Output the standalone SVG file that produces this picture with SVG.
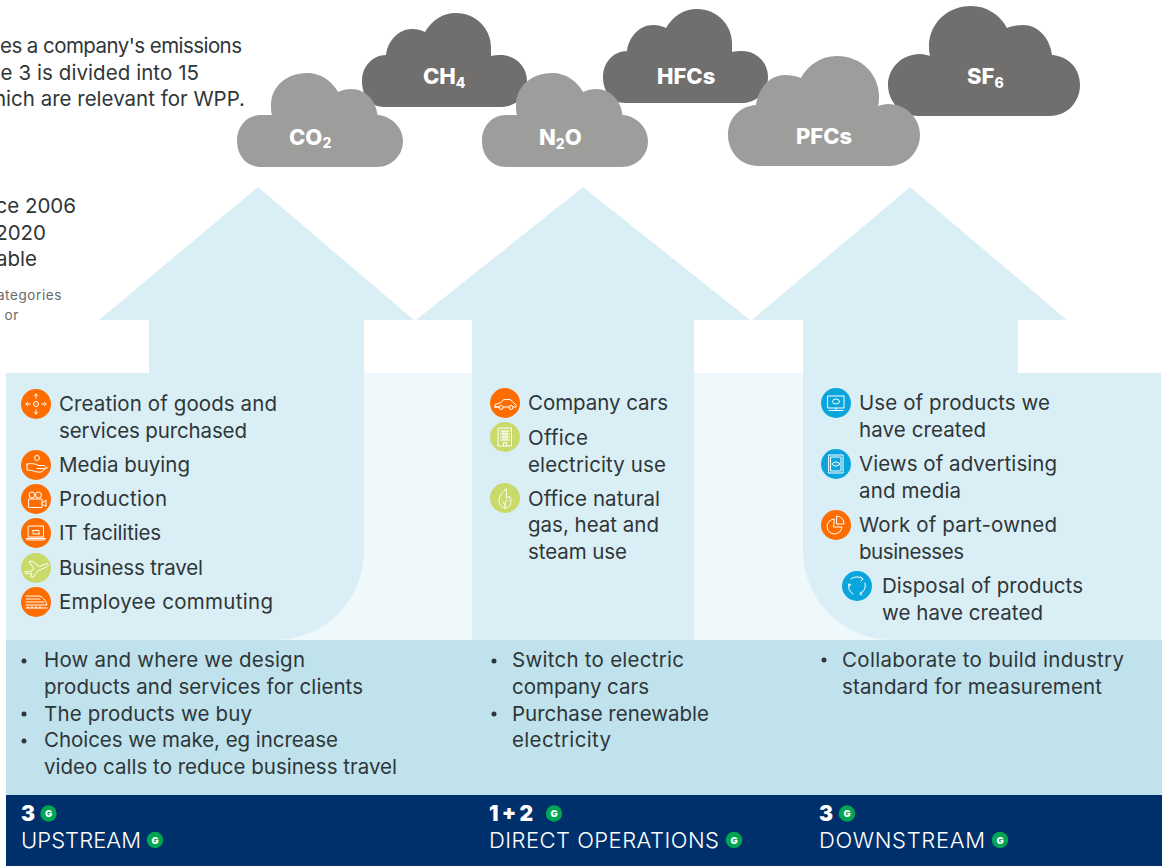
<svg xmlns="http://www.w3.org/2000/svg" width="1168" height="866" viewBox="0 0 1168 866">
<style>
text{font-family:"Inter","Liberation Sans",sans-serif}
.b{font-size:20.5px;fill:#2f3638}
.h{font-size:20.5px;fill:#2f3638}
.s{font-size:13.500px;fill:#6a6a6a;letter-spacing:.6px}
.c{font-size:22px;font-weight:800;fill:#fff}
.u{font-size:14px;font-weight:800}
.t{font-size:22px;font-weight:300;fill:#fff}
.n{font-size:21px;font-weight:900;fill:#fff}
.g{font-size:9.500px;font-weight:900;fill:#fff;text-anchor:middle}
.i{fill:none;stroke:#fff;stroke-width:1;stroke-linecap:round;stroke-linejoin:round}
.o{fill:#ff6d00}.l{fill:#c9d96a}.e{fill:#0ba5de}
.d{fill:#706f6e}.m{fill:#9d9d9c}
.k{fill:#2f3638}
</style>
<defs>
<path id="cA" d="M625,103C612,103 603,92 603,77C603,62 614,51 627,51C629,36 640,25 653,25C658,25 662,26 666,28C673,16 684,9 697,9C717,9 732,25 732,43C732,46 732,49 732,52C735,51 739,51 742,51C756,51 768,62 768,77C768,92 756,103 743,103Z"/>
<path id="cB" d="M506,167C492,167 482,156 482,141C482,126 492,115 506,115C510,115 514,115 517,115C516,112 516,109 516,105C516,87 531,73 552,73C566,73 577,81 583,92C587,90 592,89 596,89C610,89 621,100 622.500,115C636,116 648,127 648,141C648,156 636,167 622,167Z"/>
<path id="cC" d="M758,166C741,166 728,152 728,135C728,118 740,106 756,105C758,88 770,75 785,75C791,75 796,76 801,78C808,65 821,56 837,56C861,56 879,74 879,96C879,99 879,103 878,106C881,105 884,104 888,104C906,104 920,118 920,135C920,152 906,166 890,166Z"/>
<g id="g1"><circle r="8.200" fill="#00a651"/><text class="g" y="3.500">G</text></g>
</defs>
<rect width="1168" height="866" fill="#fff"/>
<g id="left-text">
<text class="h" x="0" y="53" textLength="242">es a company's emissions</text>
<text class="h" x="-12" y="80" textLength="211">pe 3 is divided into 15</text>
<text class="h" x="-6" y="106" textLength="251">hich are relevant for WPP.</text>
<text class="h" x="76" y="213" text-anchor="end">ce 2006</text>
<text class="h" x="46" y="240" text-anchor="end">2020</text>
<text class="h" x="37" y="266" text-anchor="end">able</text>
<text class="s" x="62" y="300" text-anchor="end">ategories</text>
<text class="s" x="19" y="320" text-anchor="end">or</text>
</g>
<g id="panels">
<rect x="6" y="373" width="1155" height="267" fill="#eff8fb"/>
<path id="arrow-upstream" fill="#daeef6" d="M258,187L414,320H364V550C364,600 325,640 275,640H6V373H149V320H99Z"/>
<path id="arrow-direct" fill="#daeef6" d="M583,187L750,320H694V640H472V320H416Z"/>
<path id="arrow-downstream" fill="#daeef6" d="M910,187L1067,320H1018V373H1161V640H893C843,640 803,600 803,550V320H752Z"/>
<rect x="6" y="640" width="1156" height="155" fill="#bfe2ed"/>
<rect x="6" y="795" width="1156" height="71" fill="#00306b"/>
</g>
<g id="cloud-ch4"><use href="#cA" class="d" transform="translate(-241,4)"/><text class="c" x="423" y="84">CH<tspan class="u" dy="4">4</tspan></text></g>
<g id="cloud-hfcs"><use href="#cA" class="d"/><text class="c" x="657" y="84">HFCs</text></g>
<g id="cloud-sf6"><use href="#cC" class="d" transform="matrix(-1,0,0,1,1808,-50)"/><text class="c" x="967" y="84">SF<tspan class="u" dy="4">6</tspan></text></g>
<g id="cloud-co2"><use href="#cB" class="m" transform="translate(-245,0)"/><text class="c" x="289" y="145">CO<tspan class="u" dy="3">2</tspan></text></g>
<g id="cloud-n2o"><use href="#cB" class="m"/><text class="c" x="539" y="145">N<tspan class="u" dy="4">2</tspan><tspan dy="-4">O</tspan></text></g>
<g id="cloud-pfcs"><use href="#cC" class="m"/><text class="c" x="796" y="144">PFCs</text></g>

<g id="node-goods"><circle class="o" cx="36" cy="404" r="15"/><g class="i"><circle cx="36" cy="404" r="2.500"/><path d="M36,394V398M34.500,395.500L36,394L37.500,395.500M36,414V410M34.500,412.500L36,414L37.500,412.500M26,404H30M27.500,402.500L26,404L27.500,405.500M46,404H42M44.500,402.500L46,404L44.500,405.500"/></g><text class="b" x="59" y="411" textLength="218">Creation of goods and</text><text class="b" x="59" y="438" textLength="188">services purchased</text></g>
<g id="node-media"><circle class="o" cx="36" cy="465" r="15"/><g class="i"><circle cx="37" cy="458" r="2.500"/><path d="M27,464C32,463 36,464 39,465.500H44C46,465.500 46,468.500 44,468.500H37M27,464V470C33,470 37,473 41,472L48,467"/></g><text class="b" x="59" y="472" textLength="131">Media buying</text></g>
<g id="node-production"><circle class="o" cx="36" cy="499" r="15"/><g class="i"><circle cx="32" cy="495" r="3"/><circle cx="38.500" cy="495" r="3"/><rect x="29" y="499" width="13" height="8.500"/><path d="M42,503L46,500V506.500L42,504"/></g><text class="b" x="59" y="506" textLength="108">Production</text></g>
<g id="node-it"><circle class="o" cx="36" cy="533" r="15"/><g class="i"><rect x="28.500" y="526" width="15" height="11"/><path d="M26.500,538.500H45.500L44.500,540H27.500ZM32.500,530.500H39V534M39.500,534H33V531.500"/></g><text class="b" x="59" y="540" textLength="102">IT facilities</text></g>
<g id="node-travel"><circle class="l" cx="36" cy="568" r="15"/><g class="i"><path d="M25,572L30,571.500L34,569L29,561.500L32,561L39,566.500L46,564C49,563 49,565 47,566.500L38,571L33,577L31,577L32,573L27,574Z"/></g><text class="b" x="59" y="575" textLength="144">Business travel</text></g>
<g id="node-commuting"><circle class="o" cx="36" cy="602" r="15"/><g class="i"><path d="M26,596H38C42,596 46,600 47,605H26M26,599H40M26,602H44M26,608H47M28,606.500V608M32,606.500V608M36,606.500V608M40,606.500V608"/></g><text class="b" x="59" y="609" textLength="214">Employee commuting</text></g>

<g id="node-cars"><circle class="o" cx="505" cy="403" r="15"/><g class="i"><path d="M495,407V404.500L500,403L504,399.500H510L514,403L516,405V407H513M509,407H503M499,407H495ZM499,407.500a2,2 0 0 0 4,0a2,2 0 0 0 -4,0M509,407.500a2,2 0 0 0 4,0a2,2 0 0 0 -4,0"/></g><text class="b" x="528" y="410" textLength="140">Company cars</text></g>
<g id="node-electricity"><circle class="l" cx="505" cy="437" r="15"/><g class="i"><rect x="498.500" y="428" width="13" height="18"/><path d="M500.500,431H509.500M500.500,434H509.500M500.500,437H509.500M500.500,440H509.500M503,431V440M505,431V440M507,431V440M503.500,446V442.500H506.500V446"/></g><text class="b" x="528" y="445" textLength="60">Office</text><text class="b" x="528" y="472" textLength="138">electricity use</text></g>
<g id="node-gas"><circle class="l" cx="505" cy="498" r="15"/><g class="i"><path d="M506,489C503,492 499,495 499,501C499,505 502,508 505,508C509,508 511,505 511,501C511,499 510,497 509,496C508,498 507,498 506,498C507,495 506,492 506,489ZM505,508V503L507,500M505,505L503,502"/></g><text class="b" x="528" y="506" textLength="132">Office natural</text><text class="b" x="528" y="532" textLength="131">gas, heat and</text><text class="b" x="528" y="559" textLength="99">steam use</text></g>

<g id="node-use"><circle class="e" cx="836" cy="403" r="15"/><g class="i"><rect x="828" y="396" width="16" height="12"/><ellipse cx="836" cy="401.500" rx="3.500" ry="2.500"/><path d="M836,408V410M829,410.500H843"/></g><text class="b" x="859" y="410" textLength="191">Use of products we</text><text class="b" x="859" y="437" textLength="127">have created</text></g>
<g id="node-views"><circle class="e" cx="836" cy="464" r="15"/><g class="i"><rect x="829" y="455" width="14" height="18"/><rect x="831" y="457" width="10" height="14"/><ellipse cx="836" cy="464" rx="3.500" ry="2"/></g><text class="b" x="859" y="471" textLength="198">Views of advertising</text><text class="b" x="859" y="498" textLength="102">and media</text></g>
<g id="node-work"><circle class="o" cx="836" cy="525" r="15"/><g class="i"><path d="M834,519A7.500,7.500 0 1 0 842,527H834ZM837,516A7.500,7.500 0 0 1 844,524H837Z"/></g><text class="b" x="859" y="532" textLength="198">Work of part-owned</text><text class="b" x="859" y="559" textLength="105">businesses</text></g>
<g id="node-disposal"><circle class="e" cx="857" cy="586" r="15"/><g class="i"><path d="M851,579A9,9 0 0 1 863,579M865,583A9,9 0 0 1 860,594M853,594A9,9 0 0 1 849,584M861,577L863,579L861,581M849,586L849,584L851,585M861,592L860,594L862,595"/></g><text class="b" x="882" y="593" textLength="201">Disposal of products</text><text class="b" x="882" y="620" textLength="161">we have created</text></g>

<g id="actions-upstream">
<circle class="k" cx="24" cy="661" r="2.500"/><text class="b" x="44" y="667" textLength="261">How and where we design</text><text class="b" x="44" y="694" textLength="319">products and services for clients</text>
<circle class="k" cx="24" cy="714" r="2.500"/><text class="b" x="44" y="721" textLength="208">The products we buy</text>
<circle class="k" cx="24" cy="741" r="2.500"/><text class="b" x="44" y="747" textLength="294">Choices we make, eg increase</text><text class="b" x="44" y="774" textLength="353">video calls to reduce business travel</text>
</g>
<g id="actions-direct">
<circle class="k" cx="494" cy="661" r="2.500"/><text class="b" x="512" y="667" textLength="172">Switch to electric</text><text class="b" x="512" y="694" textLength="137">company cars</text>
<circle class="k" cx="494" cy="714" r="2.500"/><text class="b" x="512" y="721" textLength="197">Purchase renewable</text><text class="b" x="512" y="747" textLength="99">electricity</text>
</g>
<g id="actions-downstream">
<circle class="k" cx="824" cy="660" r="2.500"/><text class="b" x="842" y="667" textLength="282">Collaborate to build industry</text><text class="b" x="842" y="694" textLength="260">standard for measurement</text>
</g>
<g id="footer">
<text class="n" x="21" y="821">3</text><use href="#g1" x="48.500" y="813.500"/>
<text class="t" x="21" y="848" textLength="120">UPSTREAM</text><use href="#g1" x="155" y="840"/>
<text class="n" x="489" y="821" textLength="44">1 + 2</text><use href="#g1" x="554" y="813.500"/>
<text class="t" x="489" y="848" textLength="230">DIRECT OPERATIONS</text><use href="#g1" x="734" y="840"/>
<text class="n" x="819" y="821">3</text><use href="#g1" x="847" y="813.500"/>
<text class="t" x="819" y="848" textLength="166">DOWNSTREAM</text><use href="#g1" x="1000" y="840"/>
</g>
</svg>
